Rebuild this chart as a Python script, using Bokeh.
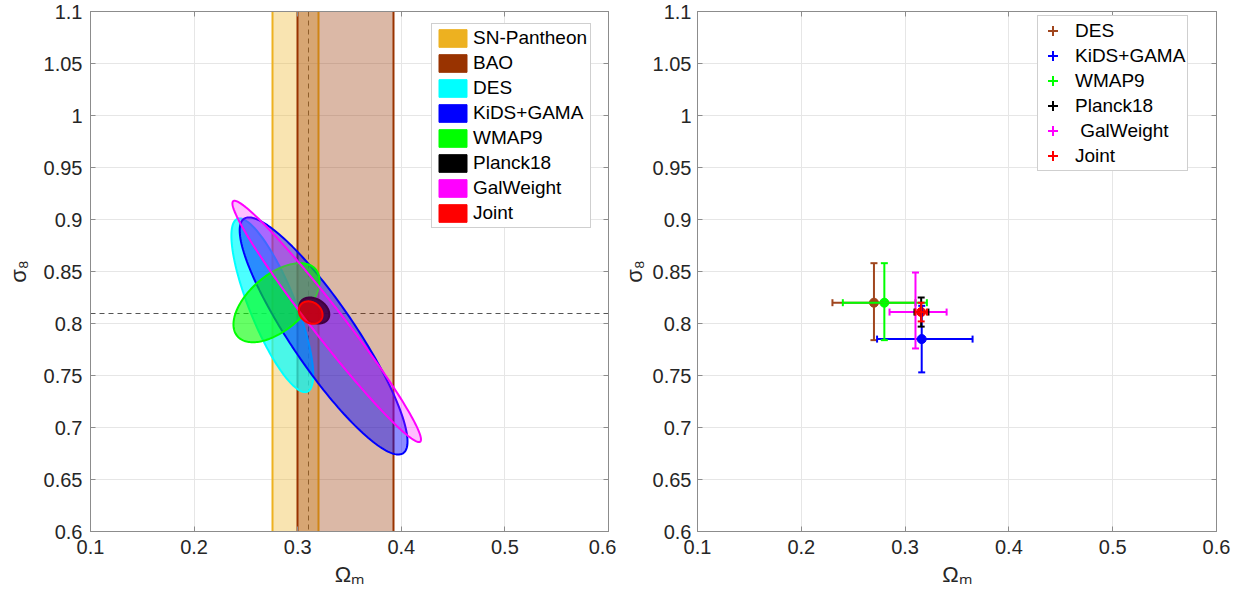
import numpy as np
from bokeh.plotting import figure
from bokeh.layouts import row
from bokeh.models import (Range1d, FixedTicker, LinearAxis, Legend, LegendItem,
                          ColumnDataSource, Whisker, TeeHead)
from bokeh.embed import file_html
from bokeh.resources import INLINE

FONT = "Liberation Sans"

# ---------------- axes ----------------
x_ticks = [0.1, 0.2, 0.3, 0.4, 0.5, 0.6]
x_tick_labels = ["0.1", "0.2", "0.3", "0.4", "0.5", "0.6"]
y_ticks = [0.6, 0.65, 0.7, 0.75, 0.8, 0.85, 0.9, 0.95, 1.0, 1.05, 1.1]
y_tick_labels = ["0.6", "0.65", "0.7", "0.75", "0.8", "0.85", "0.9", "0.95", "1", "1.05", "1.1"]

# ---------------- Omega_m constraints shown as vertical bands ----------------
band_names = ["SN-Pantheon", "BAO"]
band_lo = [0.276, 0.300]
band_hi = [0.320, 0.392]
band_colors = ["#EDB120", "#993300"]

# joint best fit, marked with dashed reference lines
ref_omega_m = 0.31
ref_sigma_8 = 0.81

# ---------------- 2D confidence regions ----------------
# centre, half extent in Omega_m and sigma_8, correlation coefficient
ell_names = ["DES", "KiDS+GAMA", "WMAP9", "Planck18", "GalWeight", "Joint"]
ell_cx = [0.2755, 0.3250, 0.2795, 0.3160, 0.3280, 0.3125]
ell_cy = [0.8175, 0.7880, 0.8200, 0.8125, 0.8020, 0.8105]
ell_hx = [0.0395, 0.0810, 0.0415, 0.0145, 0.0910, 0.0115]
ell_hy = [0.0835, 0.1140, 0.0380, 0.0125, 0.1160, 0.0108]
ell_rho = [-0.80, -0.89, 0.55, -0.30, -0.978, -0.20]
ell_colors = ["#00FFFF", "#0000FF", "#00FF00", "#000000", "#FF00FF", "#FF0000"]
ell_alpha = [0.70, 0.45, 0.60, 0.90, 0.25, 0.65]

# ---------------- 1D marginalised constraints ----------------
eb_names = ["DES", "KiDS+GAMA", "WMAP9", "Planck18", " GalWeight", "Joint"]
eb_om = [0.270, 0.316, 0.280, 0.3155, 0.310, 0.3155]
eb_om_lo = [0.040, 0.043, 0.040, 0.0065, 0.025, 0.0055]
eb_om_hi = [0.040, 0.049, 0.041, 0.0070, 0.030, 0.0055]
eb_s8 = [0.820, 0.785, 0.820, 0.811, 0.811, 0.811]
eb_s8_lo = [0.036, 0.032, 0.036, 0.014, 0.035, 0.009]
eb_s8_hi = [0.038, 0.032, 0.038, 0.014, 0.038, 0.009]
eb_colors = ["#A0461E", "#0000FF", "#00FF00", "#000000", "#FF00FF", "#FF0000"]
eb_has_marker = [True, True, True, False, False, True]
eb_draw_order = [0, 1, 2, 4, 3, 5]

AXIS_GRAY = "#8c8c8c"
TEXT = "#262626"


def confidence_ellipse(cx, cy, hx, hy, rho, n=181):
    t = np.linspace(0.0, 2.0 * np.pi, n)
    x = cx + hx * np.cos(t)
    y = cy + hy * (rho * np.cos(t) + np.sqrt(1.0 - rho ** 2) * np.sin(t))
    return x, y


def make_axes(p, ytick_standoff, ylabel_standoff):
    p.x_range = Range1d(x_ticks[0], x_ticks[-1])
    p.y_range = Range1d(y_ticks[0], y_ticks[-1])
    p.xaxis.ticker = FixedTicker(ticks=x_ticks)
    p.yaxis.ticker = FixedTicker(ticks=y_ticks)
    p.xaxis.major_label_overrides = {t: s for t, s in zip(x_ticks, x_tick_labels)}
    p.yaxis.major_label_overrides = {t: s for t, s in zip(y_ticks, y_tick_labels)}
    p.xaxis.axis_label = "Ωₘ"
    p.yaxis.axis_label = "σ₈"
    for ax in (p.xaxis[0], p.yaxis[0]):
        ax.major_tick_in = 5
        ax.major_tick_out = 0
        ax.minor_tick_in = 0
        ax.minor_tick_out = 0
        ax.axis_line_color = AXIS_GRAY
        ax.major_tick_line_color = AXIS_GRAY
        ax.major_label_text_font = FONT
        ax.major_label_text_font_size = "20px"
        ax.major_label_text_color = TEXT
        ax.axis_label_text_font = FONT
        ax.axis_label_text_font_size = "22px"
        ax.axis_label_text_font_style = "normal"
        ax.axis_label_text_color = TEXT
    p.xaxis.major_label_standoff = 8
    p.xaxis.axis_label_standoff = 5
    p.yaxis.major_label_standoff = ytick_standoff
    p.yaxis.axis_label_standoff = ylabel_standoff
    # mirrored ticks on the top and right edges of the box (no labels)
    for side, ticks in (("above", x_ticks), ("right", y_ticks)):
        ax = LinearAxis(ticker=FixedTicker(ticks=ticks),
                        major_label_text_font_size="0px",
                        major_label_text_color=None,
                        major_label_standoff=0,
                        major_tick_in=5, major_tick_out=0,
                        minor_tick_in=0, minor_tick_out=0,
                        axis_line_color=AXIS_GRAY,
                        major_tick_line_color=AXIS_GRAY)
        p.add_layout(ax, side)
    p.grid.grid_line_color = "#e6e6e6"
    p.grid.grid_line_width = 1
    p.outline_line_color = AXIS_GRAY
    p.outline_line_width = 1


# ================= left panel: contours =================
p1 = figure(width=616, height=605, output_backend="svg", toolbar_location=None,
            min_border_left=90, min_border_right=8, min_border_top=11,
            min_border_bottom=74)
make_axes(p1, 8, 10)

p1.vspan(x=[ref_omega_m], line_color="#555555", line_width=1, line_dash="5 4")
p1.hspan(y=[ref_sigma_8], line_color="#555555", line_width=1, line_dash="5 4")

for name, lo, hi, c in zip(band_names, band_lo, band_hi, band_colors):
    p1.vstrip(x0=[lo], x1=[hi], fill_color=c, fill_alpha=0.35,
              line_color=c, line_width=2)

ell_src = {"xs": [], "ys": [], "color": [], "alpha": []}
for cx, cy, hx, hy, rho, c, a in zip(ell_cx, ell_cy, ell_hx, ell_hy, ell_rho,
                                     ell_colors, ell_alpha):
    ex, ey = confidence_ellipse(cx, cy, hx, hy, rho)
    ell_src["xs"].append(ex)
    ell_src["ys"].append(ey)
    ell_src["color"].append(c)
    ell_src["alpha"].append(a)
p1.patches(xs="xs", ys="ys", source=ColumnDataSource(ell_src),
           fill_color="color", fill_alpha="alpha", line_color="color",
           line_width=2)

# solid swatches for the key
legend_items = []
for name, c in zip(band_names + ell_names, band_colors + ell_colors):
    r = p1.quad(left=[np.nan], right=[np.nan], top=[np.nan], bottom=[np.nan],
                fill_color=c, fill_alpha=1.0, line_color=c, line_width=1)
    legend_items.append(LegendItem(label=name, renderers=[r]))

leg1 = Legend(items=legend_items, location=(341, 303), padding=3, spacing=3,
              glyph_width=35, glyph_height=22, label_standoff=3, margin=0,
              label_text_font=FONT, label_text_font_size="19px",
              label_text_color="#000000", border_line_color="#a0a0a0",
              border_line_width=1, background_fill_alpha=1.0)
p1.add_layout(leg1)

# ================= right panel: error bars =================
p2 = figure(width=623, height=605, output_backend="svg", toolbar_location=None,
            min_border_left=81, min_border_right=23, min_border_top=11,
            min_border_bottom=74)
make_axes(p2, 6, 3)

for i in eb_draw_order:
    c = eb_colors[i]
    xs = ColumnDataSource(dict(base=[eb_s8[i]], lower=[eb_om[i] - eb_om_lo[i]],
                               upper=[eb_om[i] + eb_om_hi[i]]))
    ys = ColumnDataSource(dict(base=[eb_om[i]], lower=[eb_s8[i] - eb_s8_lo[i]],
                               upper=[eb_s8[i] + eb_s8_hi[i]]))
    for src, dim in ((xs, "width"), (ys, "height")):
        w = Whisker(source=src, base="base", lower="lower", upper="upper",
                    dimension=dim, line_color=c, line_width=2, level="glyph",
                    upper_head=TeeHead(size=7, line_color=c, line_width=2),
                    lower_head=TeeHead(size=7, line_color=c, line_width=2))
        p2.add_layout(w)
    if eb_has_marker[i]:
        p2.scatter(x=[eb_om[i]], y=[eb_s8[i]], marker="circle", size=9,
                   fill_color=c, line_color=c)

items2 = []
for i, name in enumerate(eb_names):
    c = eb_colors[i]
    rs = [p2.scatter(x=[np.nan], y=[np.nan], marker="cross", size=12,
                     line_color=c, line_width=2)]
    if name == "Joint":
        rs.append(p2.scatter(x=[np.nan], y=[np.nan], marker="dot", size=12,
                             line_color=c, fill_color=c, line_width=4))
    items2.append(LegendItem(label=name, renderers=rs))

leg2 = Legend(items=items2, location=(340, 360), padding=2, spacing=0,
              glyph_width=25, glyph_height=25, label_standoff=10, margin=0,
              label_text_font=FONT, label_text_font_size="19px",
              label_text_color="#000000", border_line_color="#a0a0a0",
              border_line_width=1, background_fill_alpha=1.0)
p2.add_layout(leg2)

layout = row(p1, p2)
open("out.html", "w").write(file_html(layout, INLINE))
